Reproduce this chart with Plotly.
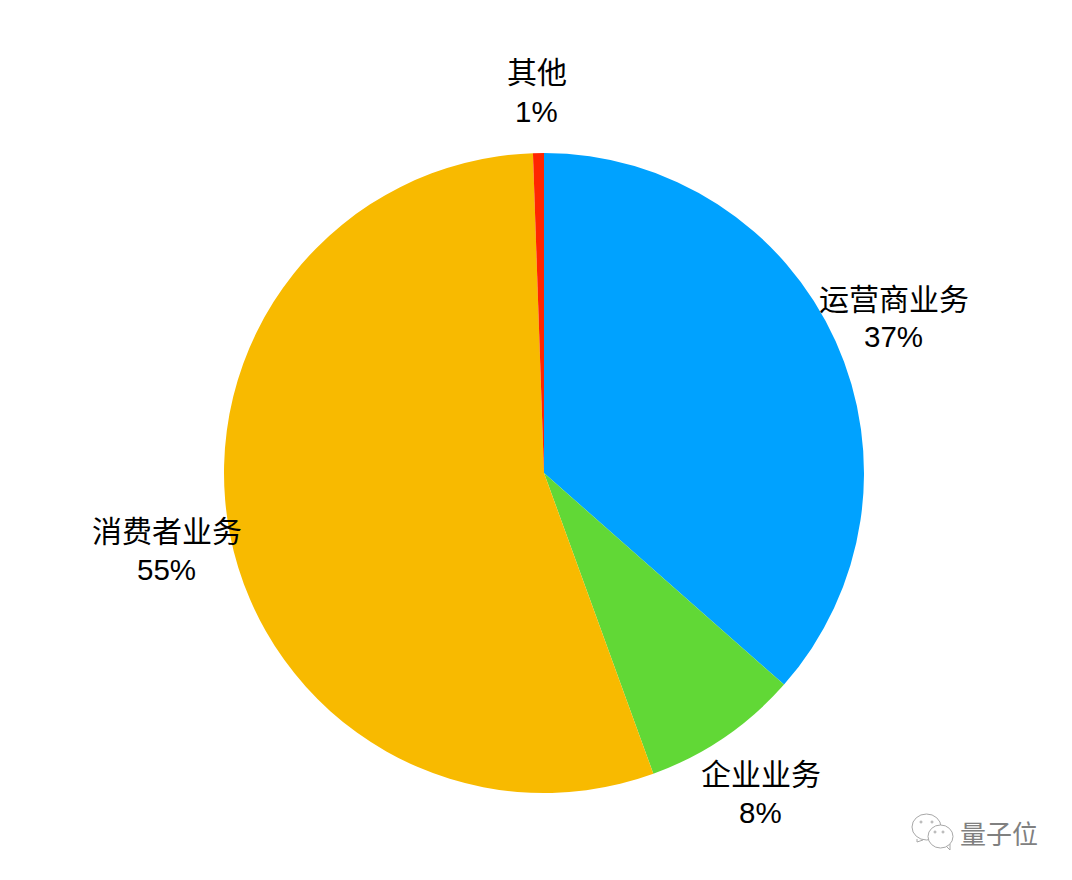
import plotly.graph_objects as go

labels = ["运营商业务", "企业业务", "消费者业务", "其他"]
values = [36.5, 7.95, 55.0, 0.55]
percents = ["37%", "8%", "55%", "1%"]
colors = ["#00a2ff", "#61d836", "#f8ba00", "#ff2600"]

FONT = "Noto Sans CJK SC"

# the page has a body margin of 8px, so the figure sits 8px in from the corner
PAGE = 8
W = 1072 - 2 * PAGE
H = 880 - 2 * PAGE


def px(x):
    return (x - PAGE) / W


def py(y):
    return 1 - (y - PAGE) / H


fig = go.Figure(go.Pie(labels=labels,
                       values=values,
                       marker=dict(colors=colors, line=dict(width=0)),
                       sort=False,
                       direction="clockwise",
                       rotation=0,
                       textinfo="none",
                       hoverinfo="label+percent",
                       showlegend=False,
                       domain=dict(x=[px(224), px(864)], y=[py(793), py(153)])))

# x centre, y of name line, y of percent line
label_pos = [(894, 297, 337), (761, 772, 812), (167, 529, 569), (537, 70, 111)]
annotations = []
for name, pct, (x, y1, y2) in zip(labels, percents, label_pos):
    annotations.append(dict(text=name, x=px(x), y=py(y1), xref="paper", yref="paper",
                            xanchor="center", yanchor="middle", showarrow=False,
                            font=dict(size=30, color="black", family=FONT)))
    annotations.append(dict(text=pct, x=px(x - 1), y=py(y2), xref="paper", yref="paper",
                            xanchor="center", yanchor="middle", showarrow=False,
                            font=dict(size=29.5, color="black", family="Liberation Sans")))
annotations.append(dict(text="量子位", x=px(999), y=py(832), xref="paper", yref="paper",
                        xanchor="center", yanchor="middle", showarrow=False,
                        font=dict(size=26, color="#808080", family=FONT)))

# watermark icon: two speech bubbles with dots
ICON = "#a8a8a8"
shapes = []
for x0, y0, x1, y1 in [(912, 814, 941, 840), (928, 825, 953, 848)]:
    shapes.append(dict(type="circle", xref="paper", yref="paper", x0=px(x0), y0=py(y0), x1=px(x1), y1=py(y1),
                       line=dict(color=ICON, width=1), fillcolor="white"))
for x, y in [(921, 822), (932, 822), (935, 832), (943, 832)]:
    shapes.append(dict(type="circle", xref="paper", yref="paper", x0=px(x - 1), y0=py(y - 1), x1=px(x + 1), y1=py(y + 1),
                       line=dict(color=ICON, width=1), fillcolor="white"))
for a, b, c in [((917, 839), (917, 842), (923, 840)), ((946, 846), (950, 850), (950, 844))]:
    shapes.append(dict(type="path", xref="paper", yref="paper",
                       path=f"M {px(a[0])} {py(a[1])} L {px(b[0])} {py(b[1])} L {px(c[0])} {py(c[1])}",
                       line=dict(color=ICON, width=1)))

fig.update_layout(width=W, height=H, margin=dict(l=0, r=0, t=0, b=0),
                  paper_bgcolor="white", annotations=annotations, shapes=shapes)
fig.write_html("out.html")
